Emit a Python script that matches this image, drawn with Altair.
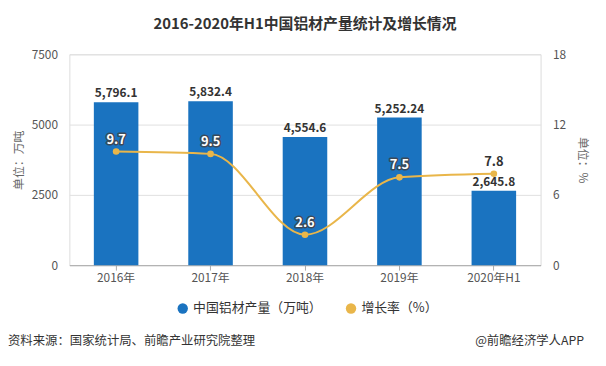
import altair as alt
import pandas as pd

years = ["2016年", "2017年", "2018年", "2019年", "2020年H1"]
production = [5796.1, 5832.4, 4554.6, 5252.24, 2645.8]
growth = [9.7, 9.5, 2.6, 7.5, 7.8]
left_ticks = [0, 2500, 5000, 7500]
right_ticks = [0, 6, 12, 18]
series_names = ["中国铝材产量（万吨）", "增长率（%）"]
title_text = "2016-2020年H1中国铝材产量统计及增长情况"
source_text = "资料来源：国家统计局、前瞻产业研究院整理"
brand_text = "@前瞻经济学人APP"

FONT = "Noto Sans CJK SC"
BLUE = "#1a73c0"
GOLD = "#e9b64a"

df = pd.DataFrame({
    "year": years,
    "production": production,
    "growth": growth,
    "prod_label": [f"{v:,}" for v in production],
    "growth_label": [f"{v}" for v in growth],
})

color_scale = alt.Scale(domain=series_names, range=[BLUE, GOLD])

x = alt.X("year:N", sort=years,
          scale=alt.Scale(paddingInner=0.53, paddingOuter=0.26),
          axis=alt.Axis(title=None, labelAngle=0, labelColor="#555", labelFontSize=12,
                        labelFont=FONT, domainColor="#aaa", tickColor="#aaa",
                        tickSize=5, labelPadding=3))

y_left = alt.Y("production:Q", scale=alt.Scale(domain=[0, 7500]),
               axis=alt.Axis(values=left_ticks, format="d", title="单位：万吨", grid=True,
                             gridColor="#e0e0e0", domain=False, ticks=False,
                             labelColor="#555", labelFontSize=12, labelFont=FONT,
                             labelPadding=12, titleColor="#666", titleFontSize=12,
                             titleFont=FONT, titleFontWeight="normal", titlePadding=6))

y_right = alt.Y("growth:Q", scale=alt.Scale(domain=[0, 18]),
                axis=alt.Axis(orient="right", values=right_ticks, format="d", title="单位：%",
                              grid=False, domain=False, ticks=False,
                              labelColor="#555", labelFontSize=12, labelFont=FONT,
                              labelPadding=12, titleColor="#666", titleFontSize=12,
                              titleFont=FONT, titleFontWeight="normal", titleAngle=90,
                              titlePadding=10))

base = alt.Chart(df)

bars = base.mark_bar(size=45).transform_calculate(
    series=f'"{series_names[0]}"'
).encode(
    x=x, y=y_left,
    color=alt.Color("series:N", scale=color_scale,
                    legend=alt.Legend(title=None, orient="none", direction="horizontal",
                                      legendX=108, legendY=250, symbolType="circle",
                                      symbolSize=110, labelFontSize=13, labelFont=FONT,
                                      labelColor="#333", columnPadding=22,
                                      symbolStrokeWidth=0)),
)

bar_labels = base.mark_text(dy=-9, fontSize=12, fontWeight="bold", font=FONT,
                            color="#333").encode(
    x=x, y=y_left, text="prod_label:N",
)

line = base.mark_line(interpolate="monotone", strokeWidth=2).transform_calculate(
    series=f'"{series_names[1]}"'
).encode(
    x=x, y=y_right,
    color=alt.Color("series:N", scale=color_scale),
)
points = base.mark_point(filled=True, size=45, opacity=1).encode(
    x=x, y=y_right, color=alt.value(GOLD),
)

is_last = alt.datum.year == years[-1]
growth_outline = base.mark_text(dy=-12, fontSize=13, fontWeight="bold", font=FONT,
                                stroke="#3a4a5a", strokeWidth=3, strokeJoin="round").encode(
    x=x, y=y_right, text="growth_label:N",
    opacity=alt.condition(is_last, alt.value(0), alt.value(1)),
)
growth_labels = base.mark_text(dy=-12, fontSize=13, fontWeight="bold", font=FONT).encode(
    x=x, y=y_right, text="growth_label:N",
    color=alt.condition(is_last, alt.value("#333"), alt.value("white")),
)

foot_df = pd.DataFrame({"t": [source_text]})
foot_left = alt.Chart(foot_df).mark_text(align="left", baseline="middle", fontSize=12.5,
                                         font=FONT, color="#333").encode(
    x=alt.value(-62), y=alt.value(290), text="t:N")
brand_df = pd.DataFrame({"t": [brand_text]})
foot_right = alt.Chart(brand_df).mark_text(align="right", baseline="middle", fontSize=12.5,
                                           font=FONT, color="#333").encode(
    x=alt.value(520), y=alt.value(290), text="t:N")

left_layer = alt.layer(bars, bar_labels)
right_layer = alt.layer(line, points, growth_outline, growth_labels)

chart = alt.layer(left_layer, right_layer, foot_left, foot_right).resolve_scale(
    y="independent"
).properties(
    width=476, height=213,
    autosize=alt.AutoSizeParams(type="none"),
    padding={"left": 62, "top": 45, "right": 58, "bottom": 92},
    title=alt.TitleParams(title_text, fontSize=15, fontWeight="bold", font=FONT,
                          color="#333", anchor="middle", offset=17),
).configure_view(stroke=None).configure(background="white")

chart.save("out.html", embed_options={"renderer": "svg", "actions": False})
